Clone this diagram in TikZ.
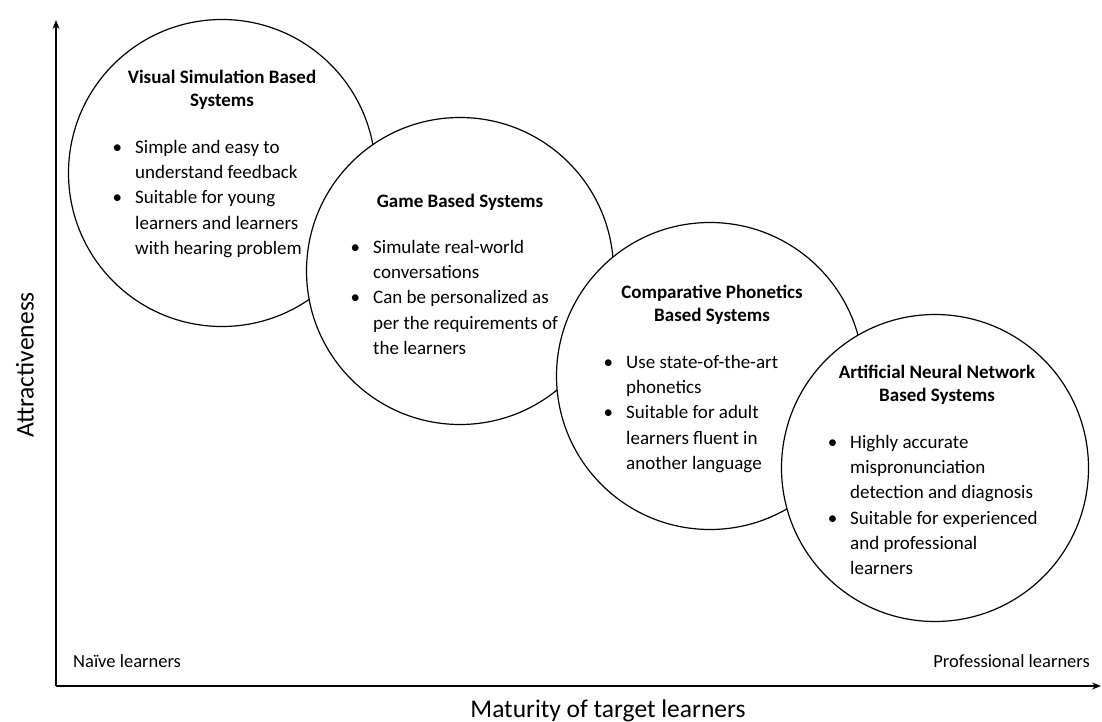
\documentclass[tikz,border=0pt]{standalone}
\usepackage{fontspec}
\setmainfont{Carlito}
\usetikzlibrary{arrows.meta}
\newcommand\bul{\llap{\textbullet\hspace{13pt}}}
\begin{document}
\begin{tikzpicture}[x=1pt,y=-1pt,
  circ/.style={circle,draw=black,fill=white,line width=1.2pt,minimum size=307pt,inner sep=0pt},
  ttl/.style={align=center,inner sep=0pt,font=\fontsize{19}{23}\selectfont\bfseries},
  blist/.style={align=left,anchor=north west,inner sep=0pt,font=\fontsize{19}{25.3}\selectfont},
  axlab/.style={inner sep=0pt,font=\fontsize{25.5}{30}\selectfont},
  endlab/.style={inner sep=0pt,font=\fontsize{18.5}{20}\selectfont},
  axis/.style={line width=1.4pt,-{Stealth[length=9pt,width=7pt]}}]
\useasboundingbox (0,0) rectangle (1102,722);
% axes
\coordinate (O) at (56,686);
\coordinate (ytop) at (56,20);
\coordinate (xend) at (1101,686);
\draw[axis] (O) -- (ytop);
\draw[axis] (O) -- (xend);
% circle 1
\node[circ] (c1) at (222,173) {};
\node[ttl] (h1) at (222,90) {Visual Simulation Based\\Systems};
\node[blist] (b1) at (135,140) {\bul Simple and easy to\\understand feedback\\\bul Suitable for young\\learners and learners\\with hearing problem};
% circle 2
\node[circ] (c2) at (460,271) {};
\node[ttl] (h2) at (460,202) {Game Based Systems};
\node[blist] (b2) at (373,240) {\bul Simulate real-world\\conversations\\\bul Can be personalized as\\per the requirements of\\the learners};
% circle 3
\node[circ] (c3) at (710,376) {};
\node[ttl] (h3) at (712,305) {Comparative Phonetics\\Based Systems};
\node[blist] (b3) at (626,355) {\bul Use state-of-the-art\\phonetics\\\bul Suitable for adult\\learners fluent in\\another language};
% circle 4
\node[circ] (c4) at (935,468) {};
\node[ttl] (h4) at (937,385) {Artificial Neural Network\\Based Systems};
\node[blist] (b4) at (850,435) {\bul Highly accurate\\mispronunciation\\detection and diagnosis\\\bul Suitable for experienced\\and professional\\learners};
% axis labels
\node[axlab,rotate=90] (ya) at (25,365) {Attractiveness};
\node[axlab] (xa) at (608,711) {Maturity of target learners};
\node[endlab,anchor=west] (nl) at (73,661) {Naïve learners};
\node[endlab,anchor=east] (pl) at (1090,661) {Professional learners};
\end{tikzpicture}
\end{document}
